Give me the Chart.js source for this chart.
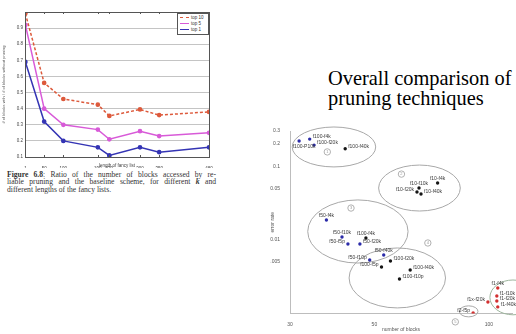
<!DOCTYPE html>
<html>
<head>
<meta charset="utf-8">
<script src="https://cdn.jsdelivr.net/npm/chart.js@4.4.1/dist/chart.umd.min.js"></script>
<style>
body { margin: 0; width: 516px; height: 334px; background: #fff; position: relative; overflow: hidden; font-family: "Liberation Serif", serif; }
#fancyChart { position: absolute; left: 0; top: 0; }
#pruneChart { position: absolute; left: 270px; top: 120px; }
#legendBox { position: absolute; left: 177px; top: 13px; width: 30px; padding: 1px 0; background: #fff; border: 1px solid #555; font: 4.5px "Liberation Sans", sans-serif; color: #333; }
#legendBox .row { height: 6px; line-height: 6px; white-space: nowrap; }
#legendBox .sw { display: inline-block; width: 9px; height: 0; margin: 0 2px 1px 2px; vertical-align: middle; border-top-width: 1.5px; }
#caption { position: absolute; left: 7px; top: 171px; width: 209px; font-size: 7.6px; line-height: 7.3px; color: #333; }
#caption .j { text-align: justify; text-align-last: justify; }
#title { position: absolute; left: 328px; top: 68px; font-size: 20.4px; line-height: 20px; color: #000; white-space: nowrap; }
</style>
</head>
<body>
<canvas id="fancyChart" width="222" height="168"></canvas>
<div id="legendBox"></div>
<div id="caption">
  <div class="j"><b>Figure 6.8</b>: Ratio of the number of blocks accessed by re-</div>
  <div class="j">liable pruning and the baseline scheme, for different <b><i>k</i></b> and</div>
  <div>different lengths of the fancy lists.</div>
</div>
<div id="title">Overall comparison of<br>pruning techniques</div>
<canvas id="pruneChart" width="246" height="214"></canvas>
<script>
// left figure: ratio vs length of fancy list
const listLengths = [1, 50, 100, 190, 220, 300, 350, 480];
const top10 = [0.99, 0.56, 0.46, 0.425, 0.355, 0.395, 0.36, 0.38];
const top5 = [0.92, 0.40, 0.30, 0.27, 0.21, 0.26, 0.23, 0.25];
const top1 = [0.69, 0.32, 0.20, 0.16, 0.11, 0.16, 0.13, 0.16];
const seriesNames = ['top 10', 'top 5', 'top 1'];
const ratioTicks = [0.1, 0.2, 0.3, 0.4, 0.5, 0.6, 0.7, 0.8, 0.9];

// right figure: error rate vs number of blocks
const blueNames = ['f100-P10k', 'f100-f4k', 'f100-f20k', 'f50-f4k', 'f50-f10k', 'f50-f5p', 'f50-f20k', 'f50-f10p', 'f50-f40k'];
const blueBlocks = [31.7, 33.8, 34.7, 37.4, 41.1, 42.6, 45.8, 48.6, 52.9];
const blueError = [0.219, 0.233, 0.193, 0.0186, 0.0109, 0.00877, 0.00877, 0.00532, 0.00622];
const blackNames = ['f100-f40k', 'f10-f4k', 'f10-f10k', 'f10-f20k', 'f10-f40k', 'f100-f4k', 'f100-f20k', 'f100-f5p', 'f100-f40k', 'f100-f10p'];
const blackBlocks = [41.9, 73.3, 65.5, 64.7, 66.3, 47.5, 55.1, 52.2, 62.1, 58.2];
const blackError = [0.172, 0.059, 0.0505, 0.0446, 0.0418, 0.0106, 0.00516, 0.00428, 0.0039, 0.00294];
const redNames = ['f1-f4k', 'f1-f10k', 'f1-f20k', 'f1-f40k', 'f1x-f20k', 'f2-f5p'];
const redBlocks = [105.5, 104.9, 104.9, 105.5, 99.4, 90.9];
const redError = [0.00222, 0.00173, 0.00148, 0.00123, 0.00143, 0.00102];
const blockTicks = [30, 50, 100];
const errorTicks = [0.005, 0.01, 0.05, 0.1, 0.2, 0.3];

// groups circled on the plot (bounds in data units)
const ringLeft = [30.4, 51.3, 33.4, 42.9, 83.6, 100.6];
const ringRight = [50.4, 84.1, 61.3, 76.9, 93.6, 133];
const ringLow = [0.0976, 0.0246, 0.00484, 0.00119, 0.0009, 0.00096];
const ringHigh = [0.34, 0.1035, 0.0348, 0.00775, 0.00127, 0.00285];
const markNums = ['1', '2', '3', '4', '5'];
const markBlocks = [37.6, 58.9, 43.4, 69.1, 81.6];
const markError = [0.156, 0.078, 0.027, 0.00906, 0.00077];

// label placement (style only)
const blueSides = ['b', 'r', 'r', 'a', 'a', 'l', 'r', 'l', 'a'];
const blackSides = ['r', 'a', 'a', 'l', 'r', 'a', 'r', 'l', 'r', 'r'];
const redSides = ['a', 'r', 'r', 'r', 'l', 'l'];

const lineColors = ['#dd5a3c', '#d85ad8', '#3434b4'];

// legend for the left figure
const legendBox = document.getElementById('legendBox');
seriesNames.forEach((name, i) => {
    const row = document.createElement('div');
    row.className = 'row';
    const sw = document.createElement('span');
    sw.className = 'sw';
    sw.style.borderTop = `1.5px ${i === 0 ? 'dashed' : 'solid'} ${lineColors[i]}`;
    row.appendChild(sw);
    row.appendChild(document.createTextNode(name));
    legendBox.appendChild(row);
});

const boxPlugin = {
    id: 'boxPlugin',
    afterDraw(chart) {
        const a = chart.chartArea, ctx = chart.ctx;
        ctx.save();
        ctx.strokeStyle = '#555';
        ctx.lineWidth = 1;
        ctx.strokeRect(a.left + 0.5, a.top + 0.5, a.right - a.left, a.bottom - a.top);
        // small inward ticks like matlab
        chart.scales.x.ticks.forEach(t => {
            const x = Math.round(chart.scales.x.getPixelForValue(t.value)) + 0.5;
            ctx.beginPath();
            ctx.moveTo(x, a.top); ctx.lineTo(x, a.top + 2);
            ctx.moveTo(x, a.bottom); ctx.lineTo(x, a.bottom - 2);
            ctx.stroke();
        });
        ctx.restore();
    }
};

const toPoints = (xs, ys) => xs.map((x, i) => ({ x, y: ys[i] }));

new Chart(document.getElementById('fancyChart'), {
    type: 'line',
    data: {
        datasets: [top10, top5, top1].map((vals, i) => ({
            label: seriesNames[i],
            data: toPoints(listLengths, vals),
            borderColor: lineColors[i],
            backgroundColor: lineColors[i],
            borderWidth: 1.5,
            borderDash: i === 0 ? [3, 2] : [],
            pointRadius: 1.6,
            tension: 0
        }))
    },
    options: {
        responsive: false,
        animation: false,
        layout: { padding: { top: 12, right: 13 } },
        plugins: { legend: { display: false }, tooltip: { enabled: false } },
        scales: {
            x: {
                type: 'linear', min: 0, max: 480,
                afterBuildTicks: s => { s.ticks = listLengths.map(v => ({ value: v })); },
                afterFit: s => { s.height = 11; },
                grid: { display: false },
                border: { display: false },
                ticks: { font: { size: 4.5 }, color: '#444', padding: 1, maxRotation: 0, autoSkip: false },
                title: { display: true, text: 'length of fancy list', font: { size: 4.5 }, color: '#444', padding: 0 }
            },
            y: {
                min: 0.1, max: 1.0,
                afterBuildTicks: s => { s.ticks = ratioTicks.map(v => ({ value: v })); },
                afterFit: s => { s.width = 25; },
                grid: { color: '#c4c4c4', drawTicks: false },
                border: { display: false },
                ticks: { font: { size: 4.5 }, color: '#444', padding: 2 },
                title: { display: true, text: '# of blocks with / # of blocks without pruning', font: { size: 4 }, color: '#555', padding: 1 }
            }
        }
    },
    plugins: [boxPlugin]
});

const sideNames = { blue: blueSides, black: blackSides, red: redSides };

const ringPlugin = {
    id: 'ringPlugin',
    beforeDatasetsDraw(chart) {
        const xs = chart.scales.x, ys = chart.scales.y, ctx = chart.ctx;
        ctx.save();
        ringLeft.forEach((l, i) => {
            const x1 = xs.getPixelForValue(l), x2 = xs.getPixelForValue(ringRight[i]);
            const y1 = ys.getPixelForValue(ringLow[i]), y2 = ys.getPixelForValue(ringHigh[i]);
            ctx.beginPath();
            ctx.ellipse((x1 + x2) / 2, (y1 + y2) / 2, Math.abs(x2 - x1) / 2, Math.abs(y1 - y2) / 2, 0, 0, Math.PI * 2);
            ctx.strokeStyle = i === 5 ? '#9db59d' : '#a8a8a8';
            ctx.lineWidth = 1;
            ctx.stroke();
        });
        markNums.forEach((n, i) => {
            const x = xs.getPixelForValue(markBlocks[i]), y = ys.getPixelForValue(markError[i]);
            ctx.beginPath();
            ctx.arc(x, y, 3.2, 0, Math.PI * 2);
            ctx.strokeStyle = '#b0b0b0';
            ctx.stroke();
            ctx.fillStyle = '#999';
            ctx.font = '4px "Liberation Sans"';
            ctx.textAlign = 'center';
            ctx.textBaseline = 'middle';
            ctx.fillText(n, x, y);
        });
        ctx.restore();
    },
    afterDatasetsDraw(chart) {
        const ctx = chart.ctx;
        ctx.save();
        ctx.font = '5px "Liberation Sans"';
        ctx.fillStyle = '#3a3a3a';
        chart.data.datasets.forEach((ds, di) => {
            const meta = chart.getDatasetMeta(di);
            const sides = sideNames[ds.label];
            ds.names.forEach((name, i) => {
                const p = meta.data[i];
                const s = sides[i];
                if (s === 'r') { ctx.textAlign = 'left'; ctx.textBaseline = 'middle'; ctx.fillText(name, p.x + 3, p.y - 2); }
                else if (s === 'l') { ctx.textAlign = 'right'; ctx.textBaseline = 'middle'; ctx.fillText(name, p.x - 3, p.y - 2); }
                else if (s === 'a') { ctx.textAlign = 'center'; ctx.textBaseline = 'bottom'; ctx.fillText(name, p.x, p.y - 2); }
                else { ctx.textAlign = 'center'; ctx.textBaseline = 'top'; ctx.fillText(name, p.x + 5, p.y + 3); }
            });
        });
        ctx.restore();
    }
};

new Chart(document.getElementById('pruneChart'), {
    type: 'scatter',
    data: {
        datasets: [
            { label: 'blue', names: blueNames, data: toPoints(blueBlocks, blueError), backgroundColor: '#2a2aa8', borderColor: '#2a2aa8' },
            { label: 'black', names: blackNames, data: toPoints(blackBlocks, blackError), backgroundColor: '#151515', borderColor: '#151515' },
            { label: 'red', names: redNames, data: toPoints(redBlocks, redError), backgroundColor: '#d23030', borderColor: '#d23030' }
        ].map(d => Object.assign(d, { pointRadius: 1.7, borderWidth: 0 }))
    },
    options: {
        responsive: false,
        animation: false,
        layout: { padding: { top: 11, right: 0 } },
        plugins: { legend: { display: false }, tooltip: { enabled: false } },
        scales: {
            x: {
                type: 'logarithmic', min: 30, max: 115,
                afterBuildTicks: s => { s.ticks = blockTicks.map(v => ({ value: v })); },
                afterFit: s => { s.height = 20.5; },
                grid: { display: false },
                border: { display: true, color: '#bdbdbd' },
                ticks: { font: { size: 5 }, color: '#555', padding: 0, maxRotation: 0, callback: v => String(v) },
                title: { display: true, text: 'number of blocks', font: { size: 5 }, color: '#555', padding: 1 }
            },
            y: {
                type: 'logarithmic', min: 0.001, max: 0.3,
                afterBuildTicks: s => { s.ticks = errorTicks.map(v => ({ value: v })); },
                afterFit: s => { s.width = 20; },
                grid: { display: false },
                border: { display: true, color: '#bdbdbd' },
                ticks: { font: { size: 5 }, color: '#555', padding: 2, callback: v => String(v) },
                title: { display: true, text: 'error rate', font: { size: 5 }, color: '#555', padding: 0 }
            }
        }
    },
    plugins: [ringPlugin]
});
</script>
</body>
</html>
